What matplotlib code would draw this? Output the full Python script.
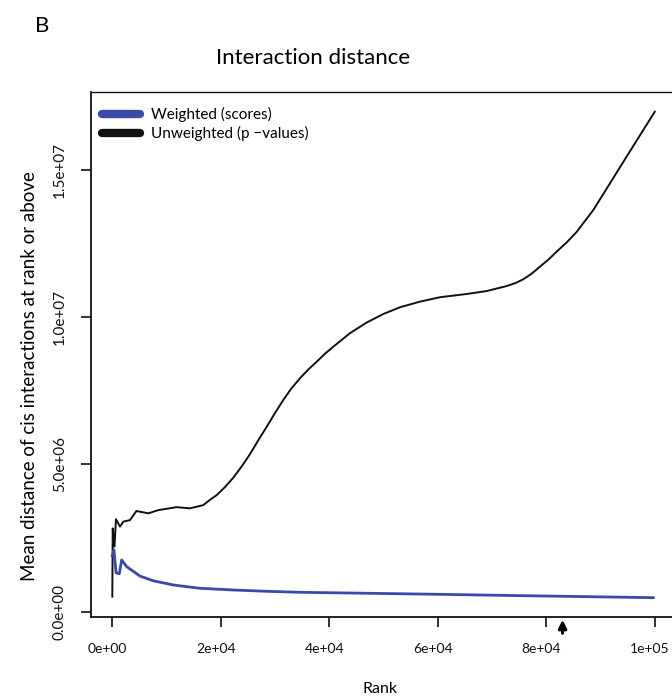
import matplotlib
matplotlib.use("Agg")
import matplotlib.pyplot as plt
import matplotlib.transforms as mtransforms
from matplotlib.lines import Line2D

plt.rcParams['font.family'] = ['Lato', 'DejaVu Sans']

# ---- data ----
rank_unweighted = [1, 74, 400, 680, 1420, 2030, 3260, 4440, 6640, 8480, 11870, 14320,
                   16770, 18010, 19240, 20700, 22250, 23800, 25380, 26900, 28460, 30000,
                   31520, 33000, 34600, 36100, 37680, 39200, 40740, 43820, 46890, 49950,
                   53030, 56720, 60400, 65330, 69010, 72700, 74300, 75760, 77300, 78840,
                   80400, 81920, 83800, 85600, 88660, 91740, 94820, 97880, 100000]
dist_unweighted = [0.51e6, 2.83e6, 2.21e6, 3.14e6, 2.89e6, 3.06e6, 3.11e6, 3.42e6, 3.34e6,
                   3.45e6, 3.55e6, 3.51e6, 3.62e6, 3.80e6, 3.96e6, 4.22e6, 4.54e6, 4.92e6,
                   5.35e6, 5.82e6, 6.28e6, 6.75e6, 7.19e6, 7.58e6, 7.93e6, 8.22e6, 8.49e6,
                   8.76e6, 9.00e6, 9.46e6, 9.82e6, 10.11e6, 10.34e6, 10.53e6, 10.68e6,
                   10.79e6, 10.89e6, 11.06e6, 11.16e6, 11.29e6, 11.48e6, 11.72e6,
                   11.96e6, 12.23e6, 12.55e6, 12.90e6, 13.64e6, 14.55e6, 15.46e6,
                   16.36e6, 16.98e6]

rank_weighted = [1, 300, 700, 1300, 1730, 2650, 5100, 7560, 11240, 16170, 22300, 28460,
                 34600, 60400, 67770, 99720]
dist_weighted = [1.9e6, 2.10e6, 1.32e6, 1.29e6, 1.76e6, 1.53e6, 1.21e6, 1.05e6, 0.907e6,
                 0.795e6, 0.737e6, 0.693e6, 0.659e6, 0.59e6, 0.567e6, 0.476e6]

x_ticks = [0, 20000, 40000, 60000, 80000, 100000]
x_tick_labels = ["0e+00", "2e+04", "4e+04", "6e+04", "8e+04", "1e+05"]
y_ticks = [0, 5e6, 1e7, 1.5e7]
y_tick_labels = ["0.0e+00", "5.0e+06", "1.0e+07", "1.5e+07"]
arrow_rank = 83000

series_labels = ["Weighted (scores)", "Unweighted (p \u2212values)"]
blue = "#3a4aa8"

W, H = 672, 698
fig = plt.figure(figsize=(W / 100, H / 100), dpi=100)
ax = fig.add_axes([90.6 / W, (H - 617) / H, (676.5 - 90.6) / W, (617 - 92) / H])

ax.plot(rank_unweighted, dist_unweighted, color="#111111", lw=1.4)
ax.plot(rank_weighted, dist_weighted, color=blue, lw=2.0)

ax.set_xlim(-4000, 104000)
ax.set_ylim(-0.18e6, 17.65e6)

ax.set_xticks(x_ticks)
ax.set_xticklabels(x_tick_labels, fontsize=10)
ax.set_yticks(y_ticks)
ax.set_yticklabels(y_tick_labels, fontsize=11, rotation=90, va="center")
ax.tick_params(axis="both", length=7, width=1.2, direction="out", colors="#111111")
ax.tick_params(axis="x", pad=12)
ax.tick_params(axis="y", pad=10)
shift = mtransforms.ScaledTranslation(-5 / 100, 0, fig.dpi_scale_trans)
for lbl in ax.get_xticklabels():
    lbl.set_transform(lbl.get_transform() + shift)
for s in ax.spines.values():
    s.set_linewidth(1.3)
    s.set_color("#111111")
ax.spines["top"].set_linewidth(1.0)

ax.set_xlabel("Rank", fontsize=11.5)
ax.xaxis.set_label_coords((380 - 90.6) / 585.9, (617 - 689) / 525)
ax.xaxis.label.set_va("center")
ax.set_ylabel("Mean distance of cis interactions at rank or above", fontsize=13.5)
ax.yaxis.set_label_coords((30 - 90.6) / 585.9, (617 - 376) / 525)
ax.yaxis.label.set_va("center")

handles = [Line2D([0], [0], color=blue, lw=6, solid_capstyle="round"),
           Line2D([0], [0], color="#111111", lw=6, solid_capstyle="round")]
ax.legend(handles, series_labels, loc="upper left", frameon=False, fontsize=11,
          bbox_to_anchor=((101.7 - 90.6) / 585.9, (617 - 107) / 525),
          borderaxespad=0, borderpad=0, handlelength=2.5, handletextpad=0.7,
          labelspacing=0.25)

# arrow under the axis
ax.annotate("", xy=(arrow_rank, -0.18e6), xycoords="data",
            xytext=(arrow_rank, -0.18e6 - 19 * 33967), textcoords="data",
            arrowprops=dict(arrowstyle="-|>", color="black", lw=2.2, mutation_scale=12),
            annotation_clip=False)

fig.text(313 / W, 1 - 58 / H, "Interaction distance", fontsize=16, ha="center", va="center")
fig.text(35 / W, 1 - 26 / H, "B", fontsize=16, ha="left", va="center")

fig.savefig("out.png", dpi=100)
